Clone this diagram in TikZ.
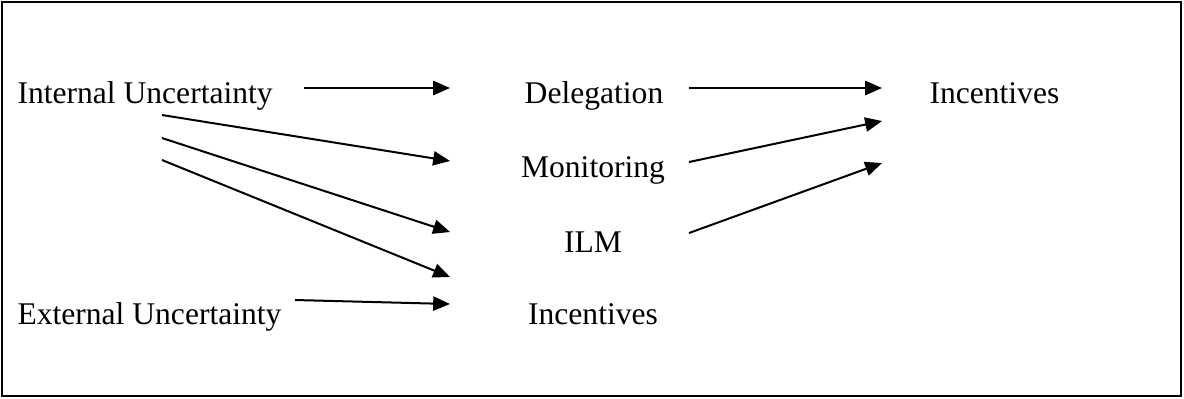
\documentclass[tikz,border=0pt]{standalone}
\usepackage{fontspec}
\setmainfont{Liberation Serif}
\usetikzlibrary{arrows.meta}
\begin{document}
\begin{tikzpicture}[x=0.38pt,y=-0.38pt,
  lbl/.style={inner sep=0pt,font=\fontsize{12}{14}\selectfont},
  conn/.style={line width=0.76pt,-{Triangle[length=6.4pt,width=5.4pt]}},
  frame/.style={line width=1pt}]
\useasboundingbox (0,0) rectangle (1184,398);
\draw[frame] (2,2) rectangle (1181,396);
% labels
\node[lbl,anchor=base west] (iu) at (17,103) {Internal Uncertainty};
\node[lbl,anchor=base west] (eu) at (17,324) {External Uncertainty};
\node[lbl,anchor=base] (del) at (594,103) {Delegation};
\node[lbl,anchor=base] (mon) at (593,177) {Monitoring};
\node[lbl,anchor=base] (ilm) at (593,252) {ILM};
\node[lbl,anchor=base] (inc1) at (593,324) {Incentives};
\node[lbl,anchor=base west] (inc2) at (929,103) {Incentives};
% connector end points
\coordinate (a1s) at (304,88);  \coordinate (a1e) at (450,88);
\coordinate (d1s) at (162,115); \coordinate (d1e) at (450,161);
\coordinate (d2s) at (162,138); \coordinate (d2e) at (450,232);
\coordinate (d3s) at (162,160); \coordinate (d3e) at (450,277);
\coordinate (xs) at (295,300);  \coordinate (xe) at (450,304);
\coordinate (b1s) at (689,88);  \coordinate (b1e) at (882,88);
\coordinate (b2s) at (689,162); \coordinate (b2e) at (882,121);
\coordinate (b3s) at (689,233); \coordinate (b3e) at (882,163);
% connectors
\draw[conn] (a1s) -- (a1e);
\draw[conn] (d1s) -- (d1e);
\draw[conn] (d2s) -- (d2e);
\draw[conn] (d3s) -- (d3e);
\draw[conn] (xs) -- (xe);
\draw[conn] (b1s) -- (b1e);
\draw[conn] (b2s) -- (b2e);
\draw[conn] (b3s) -- (b3e);
\end{tikzpicture}
\end{document}
